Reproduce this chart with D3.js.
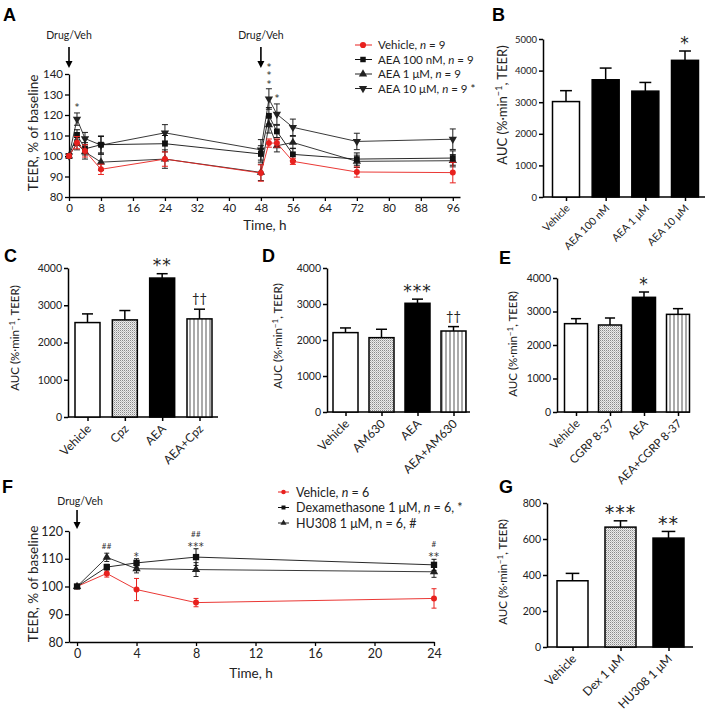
<!DOCTYPE html>
<html><head><meta charset="utf-8">
<script src="https://cdn.jsdelivr.net/npm/d3@7"></script>
<style>
body{margin:0;background:#fff}
svg{font-family:Lato,"Liberation Sans",sans-serif}
.plab{font-family:"Liberation Sans",Arial,sans-serif;font-weight:bold;font-size:18px}
</style></head><body>
<svg id="c" width="709" height="723"></svg>
<script>
// ---------- Panel A data ----------
const timesA = [0, 2, 4, 8, 24, 48, 50, 52, 56, 72, 96];
const vehA   = [100, 106.5, 102.5, 93.5, 98.5, 91.7, 106.3, 106.3, 97.4, 92.2, 91.9];
const vehAe  = [0.8, 3, 3, 2.5, 3.5, 4, 2, 2, 1.5, 2.5, 5];
const aea100 = [100, 110.3, 103.5, 105.5, 106, 101, 119.6, 112, 100.8, 98.5, 99];
const aea100e= [0.8, 2.5, 3, 4, 4, 4, 4, 3, 3, 3, 3.5];
const aea1   = [100, 106, 102, 97, 98.5, 92, 115.2, 105, 106.6, 97.4, 97.7];
const aea1e  = [0.8, 3, 3.5, 4, 4.5, 4, 4, 3, 3, 3, 3];
const aea10  = [100, 118, 108.5, 105.3, 111.3, 103, 127.8, 120.4, 114, 107.1, 108.2];
const aea10e = [0.8, 3, 3, 4.5, 4, 5, 5, 5, 4, 4, 5];
const legendA = ["Vehicle, ", "AEA 100 nM, ", "AEA 1 \u03bcM, ", "AEA 10 \u03bcM, "];
const legendAn = ["9", "9", "9", "9 *"];
const xTicksA = [0, 8, 16, 24, 32, 40, 48, 56, 64, 72, 80, 88, 96];
const yTicksA = [80, 90, 100, 110, 120, 130, 140];

// ---------- Panel F data ----------
const timesF = [0, 2, 4, 8, 24];
const vehF   = [100, 104.7, 98.9, 94.2, 95.7];
const vehFe  = [0.4, 1.3, 4, 1.5, 3.5];
const dexF   = [100, 107, 108.5, 110.6, 107.8];
const dexFe  = [0.4, 1, 1.5, 3, 2];
const huF    = [100, 110.5, 106.4, 106.1, 105.3];
const huFe   = [0.4, 1.5, 1.5, 2.5, 2];
const legendF = [["Vehicle, ", "n", " = 6"], ["Dexamethasone 1 \u03bcM, ", "n", " = 6, *"], ["HU308 1 \u03bcM, n = 6, #", "", ""]];
const xTicksF = [0, 4, 8, 12, 16, 20, 24];
const yTicksF = [80, 90, 100, 110, 120];

// ---------- Bar panels data ----------
const catsB = ["Vehicle", "AEA 100 nM", "AEA 1 \u03bcM", "AEA 10 \u03bcM"];
const aucB  = [3020, 3710, 3350, 4325];
const semB  = [345, 370, 275, 295];
const sigB  = ["", "", "", "*"];

const catsC = ["Vehicle", "Cpz", "AEA", "AEA+Cpz"];
const aucC  = [2535, 2607, 3730, 2634];
const semC  = [233, 251, 117, 260];
const sigC  = ["", "", "**", "\u2020\u2020"];

const catsD = ["Vehicle", "AM630", "AEA", "AEA+AM630"];
const aucD  = [2205, 2065, 3020, 2250];
const semD  = [130, 233, 115, 122];
const sigD  = ["", "", "***", "\u2020\u2020"];

const catsE = ["Vehicle", "CGRP 8-37", "AEA", "AEA+CGRP 8-37"];
const aucE  = [2637, 2597, 3423, 2915];
const semE  = [149, 209, 159, 170];
const sigE  = ["", "", "*", ""];

const catsG = ["Vehicle", "Dex 1 \u03bcM", "HU308 1 \u03bcM"];
const aucG  = [368, 666, 605];
const semG  = [41, 35, 37];
const sigG  = ["", "***", "**"];

const ticks4000 = [0, 1000, 2000, 3000, 4000];
const ticks5000 = [0, 1000, 2000, 3000, 4000, 5000];
const ticks800  = [0, 200, 400, 600, 800];

// ---------- drawing ----------
const svg = d3.select("#c");
const defs = svg.append("defs");
const dots = defs.append("pattern").attr("id","dots").attr("patternUnits","userSpaceOnUse").attr("width",2).attr("height",2);
dots.append("rect").attr("width",2).attr("height",2).attr("fill","#ececec");
dots.append("rect").attr("width",1).attr("height",1).attr("fill","#8a8a8a");
dots.append("rect").attr("x",1).attr("y",1).attr("width",1).attr("height",1).attr("fill","#c0c0c0");
const stripes = defs.append("pattern").attr("id","stripes").attr("patternUnits","userSpaceOnUse").attr("width",4).attr("height",4);
stripes.append("rect").attr("width",4).attr("height",4).attr("fill","#fff");
stripes.append("rect").attr("x",1.5).attr("width",1).attr("height",4).attr("fill","#555");

function panelLabel(t, x, y){ svg.append("text").attr("class","plab").attr("x",x).attr("y",y).text(t); }

function arrow(x, y1, y2){
  svg.append("line").attr("x1",x).attr("x2",x).attr("y1",y1).attr("y2",y2-5).attr("stroke","#000").attr("stroke-width",1.6);
  svg.append("path").attr("d",`M${x-3.5},${y2-7}L${x+3.5},${y2-7}L${x},${y2}Z`).attr("fill","#000");
}

function styleAxis(g, fs, sw){
  g.selectAll("path.domain").attr("stroke","#000").attr("stroke-width",sw);
  g.selectAll(".tick line").attr("stroke","#000").attr("stroke-width",sw);
  g.selectAll(".tick text").attr("font-family","Lato, sans-serif").attr("font-size",fs).attr("fill","#222");
}

function aucTitle(x, y, fs){
  const t = svg.append("text").attr("transform",`translate(${x},${y}) rotate(-90)`)
    .attr("text-anchor","middle").attr("font-size",fs).attr("fill","#222");
  t.append("tspan").text("AUC (%\u00b7min");
  t.append("tspan").attr("dy",-fs*0.38).attr("font-size",fs*0.7).text("\u22121");
  t.append("tspan").attr("dy",fs*0.38).text(", TEER)");
}

function barPanel(o){
  const y = d3.scaleLinear().domain([0, o.max]).range([o.y0, o.yTop]);
  const x = d3.scalePoint().domain(o.cats).range([o.c0, o.c1]);
  const ga = svg.append("g").attr("transform",`translate(${o.ax},0)`)
    .call(d3.axisLeft(y).tickValues(o.ticks).tickFormat(d3.format("d")).tickSize(4).tickSizeOuter(0).tickPadding(2));
  styleAxis(ga, o.tfs, 1.5);
  const xs = d3.scaleLinear().domain([0,1]).range([o.ax, o.xEnd]);
  svg.append("line").attr("x1",xs(0)).attr("x2",xs(1)).attr("y1",o.y0).attr("y2",o.y0).attr("stroke","#000").attr("stroke-width",1.5);
  const gx = svg.append("g").attr("transform",`translate(0,${o.y0})`)
    .call(d3.axisBottom(x).tickSize(4).tickSizeOuter(0));
  gx.select("path.domain").remove();
  gx.selectAll(".tick line").attr("stroke","#000").attr("stroke-width",1.5);
  gx.selectAll(".tick text").attr("font-family","Lato, sans-serif").attr("font-size",o.cfs).attr("fill","#222")
    .attr("text-anchor","end").attr("dy",0).attr("y",0)
    .attr("transform",`translate(4,${o.cfs*0.55+6}) rotate(-45)`);
  const bw = o.bw;
  o.cats.forEach((c,i)=>{
    const cx = x(c);
    const et = y(o.vals[i]+o.sem[i]);
    svg.append("line").attr("x1",cx).attr("x2",cx).attr("y1",y(o.vals[i])).attr("y2",et).attr("stroke","#000").attr("stroke-width",1.5);
    svg.append("line").attr("x1",cx-bw*0.22).attr("x2",cx+bw*0.22).attr("y1",et).attr("y2",et).attr("stroke","#000").attr("stroke-width",1.5);
    svg.append("rect").attr("x",cx-bw/2).attr("y",y(o.vals[i])).attr("width",bw).attr("height",o.y0-y(o.vals[i]))
      .attr("fill",o.fills[i]).attr("stroke","#000").attr("stroke-width",1.5);
    if(o.sig[i]){
      const isDag = o.sig[i].indexOf("\u2020")>=0;
      if(isDag){
        svg.append("text").attr("x",cx).attr("y",et - 10 + 4).attr("text-anchor","middle").attr("font-size",13).attr("fill","#222").text(o.sig[i]);
      } else {
        svg.append("text").attr("x",cx).attr("y",et - 12 + 0.56*o.sfs).attr("text-anchor","middle")
          .attr("font-family","'DejaVu Sans', sans-serif").attr("font-size",o.sfs).attr("letter-spacing",1).attr("fill","#222").text(o.sig[i]);
      }
    }
  });
}

// ---- Panel A ----
panelLabel("A", 3, 21);
const xA = d3.scaleLinear().domain([0, 97.8]).range([69, 460]);
const yA = d3.scaleLinear().domain([80, 140]).range([197, 74]);
let g = svg.append("g").attr("transform","translate(69,0)")
  .call(d3.axisLeft(yA).tickValues(yTicksA).tickSize(4).tickSizeOuter(0).tickPadding(2));
styleAxis(g, 11.5, 1.3);
g = svg.append("g").attr("transform","translate(0,197)")
  .call(d3.axisBottom(xA).tickValues(xTicksA).tickSize(4).tickSizeOuter(0).tickPadding(3));
styleAxis(g, 11.5, 1.3);
svg.append("text").attr("transform","translate(38,133) rotate(-90)").attr("text-anchor","middle").attr("font-size",13.5).attr("fill","#222").text("TEER, % of baseline");
svg.append("text").attr("x",xA(49)).attr("y",230).attr("text-anchor","middle").attr("font-size",13.5).attr("fill","#222").text("Time, h");
[0,48].forEach(t=>{
  svg.append("text").attr("x",xA(t)).attr("y",39).attr("text-anchor","middle").attr("font-size",10.5).attr("fill","#222").text("Drug/Veh");
  arrow(xA(t), 47, 68);
});

function drawSeries(xs, ys, times, vals, errs, color, shape, size, lw, capw){
  const line = d3.line().x((d,i)=>xs(times[i])).y(d=>ys(d));
  svg.append("path").datum(vals).attr("d",line).attr("fill","none").attr("stroke",color).attr("stroke-width",lw);
  vals.forEach((v,i)=>{
    const cx = xs(times[i]);
    svg.append("line").attr("x1",cx).attr("x2",cx).attr("y1",ys(v-errs[i])).attr("y2",ys(v+errs[i])).attr("stroke",color).attr("stroke-width",1);
    [v-errs[i], v+errs[i]].forEach(e=>svg.append("line").attr("x1",cx-capw).attr("x2",cx+capw).attr("y1",ys(e)).attr("y2",ys(e)).attr("stroke",color).attr("stroke-width",1));
  });
  svg.append("g").selectAll("path").data(vals).join("path")
    .attr("transform",(d,i)=>`translate(${xs(times[i])},${ys(d)})` + (shape==="tridown"?" rotate(180)":""))
    .attr("d", d3.symbol().type(shape==="circle"?d3.symbolCircle:shape==="square"?d3.symbolSquare:d3.symbolTriangle).size(size))
    .attr("fill",color);
}
drawSeries(xA, yA, timesA, aea10, aea10e, "#222", "tridown", 30, 0.9, 3);
drawSeries(xA, yA, timesA, aea1, aea1e, "#222", "triangle", 30, 0.9, 3);
drawSeries(xA, yA, timesA, aea100, aea100e, "#111", "square", 34, 0.9, 3);
drawSeries(xA, yA, timesA, vehA, vehAe, "#e8211e", "circle", 28, 0.9, 3);
// significance in A
function starA(x, y){ svg.append("text").attr("x",x).attr("y",y).attr("text-anchor","middle").attr("font-family","'DejaVu Sans', sans-serif").attr("font-size",9).attr("fill","#222").text("*"); }
starA(xA(2), yA(aea10[1]+aea10e[1])-3);
[0,1,2].forEach(k=>starA(xA(50), yA(aea10[6]+aea10e[6])-2-k*8.5));
starA(xA(52), yA(aea10[7]+aea10e[7])-3);
// legend A
const legShapes = ["circle","square","triangle","tridown"], legCols = ["#e8211e","#111","#222","#222"];
legendA.forEach((t,i)=>{
  const yy = 45 + i*14.5;
  svg.append("line").attr("x1",355).attr("x2",372).attr("y1",yy).attr("y2",yy).attr("stroke",legCols[i]).attr("stroke-width",1);
  svg.append("path").attr("transform",`translate(363,${yy})`+(legShapes[i]==="tridown"?" rotate(180)":""))
    .attr("d",d3.symbol().type(legShapes[i]==="circle"?d3.symbolCircle:legShapes[i]==="square"?d3.symbolSquare:d3.symbolTriangle).size(30)).attr("fill",legCols[i]);
  const tx = svg.append("text").attr("x",378).attr("y",yy+4).attr("font-size",11.5).attr("fill","#222");
  tx.append("tspan").text(t);
  tx.append("tspan").attr("font-style","italic").text("n");
  tx.append("tspan").text(" = " + legendAn[i]);
});

// ---- Panel B ----
panelLabel("B", 492, 21);
barPanel({cats:catsB, vals:aucB, sem:semB, sig:sigB, max:5000, ticks:ticks5000, ax:543, y0:197, yTop:39, xEnd:705,
  c0:566, c1:685, bw:27, fills:["#fff","#000","#000","#000"], tfs:9.5, cfs:10.5, sfs:17});
aucTitle(507, 105, 13);

// ---- Panel C ----
panelLabel("C", 4, 262);
barPanel({cats:catsC, vals:aucC, sem:semC, sig:sigC, max:4000, ticks:ticks4000, ax:68, y0:417, yTop:268, xEnd:218,
  c0:87.5, c1:199.5, bw:25, fills:["#fff","url(#dots)","#000","url(#stripes)"], tfs:10.5, cfs:12, sfs:17});
aucTitle(19, 338, 11.5);

// ---- Panel D ----
panelLabel("D", 262, 262);
barPanel({cats:catsD, vals:aucD, sem:semD, sig:sigD, max:4000, ticks:ticks4000, ax:327, y0:412, yTop:268, xEnd:470,
  c0:345.5, c1:453.5, bw:25, fills:["#fff","url(#dots)","#000","url(#stripes)"], tfs:10.5, cfs:12, sfs:17});
aucTitle(282, 336, 11.5);

// ---- Panel E ----
panelLabel("E", 499, 264);
barPanel({cats:catsE, vals:aucE, sem:semE, sig:sigE, max:4000, ticks:ticks4000, ax:557, y0:412, yTop:278, xEnd:690,
  c0:576, c1:678, bw:23, fills:["#fff","url(#dots)","#000","url(#stripes)"], tfs:10.5, cfs:11.5, sfs:17});
aucTitle(517, 344, 11.5);

// ---- Panel F ----
panelLabel("F", 2, 493);
const xF = d3.scaleLinear().domain([-0.54, 24]).range([69, 434]);
const yF = d3.scaleLinear().domain([80, 120]).range([642, 531]);
g = svg.append("g").attr("transform","translate(69,0)")
  .call(d3.axisLeft(yF).tickValues(yTicksF).tickSize(4).tickSizeOuter(0).tickPadding(2));
styleAxis(g, 12.5, 1.3);
g = svg.append("g").attr("transform","translate(0,642)")
  .call(d3.axisBottom(xF).tickValues(xTicksF).tickSize(4).tickSizeOuter(0).tickPadding(3));
styleAxis(g, 12.5, 1.3);
svg.append("text").attr("transform","translate(38,584) rotate(-90)").attr("text-anchor","middle").attr("font-size",13.5).attr("fill","#222").text("TEER, % of baseline");
svg.append("text").attr("x",xF(11.7)).attr("y",678).attr("text-anchor","middle").attr("font-size",13.5).attr("fill","#222").text("Time, h");
svg.append("text").attr("x",xF(0)+3).attr("y",505).attr("text-anchor","middle").attr("font-size",10.5).attr("fill","#222").text("Drug/Veh");
arrow(xF(0), 510, 529);
drawSeries(xF, yF, timesF, vehF, vehFe, "#e8211e", "circle", 28, 0.9, 2.5);
drawSeries(xF, yF, timesF, huF, huFe, "#222", "triangle", 30, 0.9, 2.5);
drawSeries(xF, yF, timesF, dexF, dexFe, "#111", "square", 40, 0.9, 2.5);
// F significance
function ann(x, y, t, fs, fam){ svg.append("text").attr("x",x).attr("y",y).attr("text-anchor","middle").attr("font-family",fam||"Lato, sans-serif").attr("font-size",fs).attr("fill","#333").attr("letter-spacing",0.5).text(t); }
ann(xF(2), yF(huF[1]+huFe[1])-4, "##", 8);
ann(xF(4), yF(dexF[2]+dexFe[2])+1, "*", 10, "'DejaVu Sans', sans-serif");
ann(xF(8), yF(dexF[3]+dexFe[3])+1, "***", 10, "'DejaVu Sans', sans-serif");
ann(xF(8), yF(dexF[3]+dexFe[3])-12, "##", 8);
ann(xF(24), yF(dexF[4]+dexFe[4])+1, "**", 10, "'DejaVu Sans', sans-serif");
ann(xF(24), yF(dexF[4]+dexFe[4])-12, "#", 8);
// legend F
const legFShapes = ["circle","square","triangle"], legFCols = ["#e8211e","#111","#222"];
legendF.forEach((t,i)=>{
  const yy = 492 + i*15.5;
  svg.append("line").attr("x1",278).attr("x2",289).attr("y1",yy).attr("y2",yy).attr("stroke",legFCols[i]).attr("stroke-width",1);
  svg.append("path").attr("transform",`translate(283.5,${yy})`)
    .attr("d",d3.symbol().type(legFShapes[i]==="circle"?d3.symbolCircle:legFShapes[i]==="square"?d3.symbolSquare:d3.symbolTriangle).size(16)).attr("fill",legFCols[i]);
  const tx = svg.append("text").attr("x",296).attr("y",yy+4.5).attr("font-size",12.5).attr("fill","#222");
  tx.append("tspan").text(t[0]);
  if(t[1]) tx.append("tspan").attr("font-style","italic").text(t[1]);
  if(t[2]) tx.append("tspan").text(t[2]);
});

// ---- Panel G ----
panelLabel("G", 499, 493);
barPanel({cats:catsG, vals:aucG, sem:semG, sig:sigG, max:800, ticks:ticks800, ax:547, y0:647, yTop:503, xEnd:693,
  c0:572.5, c1:668.5, bw:31, fills:["#fff","url(#dots)","#000"], tfs:10.5, cfs:12, sfs:19});
aucTitle(507, 572, 11.5);
</script>
</body></html>
